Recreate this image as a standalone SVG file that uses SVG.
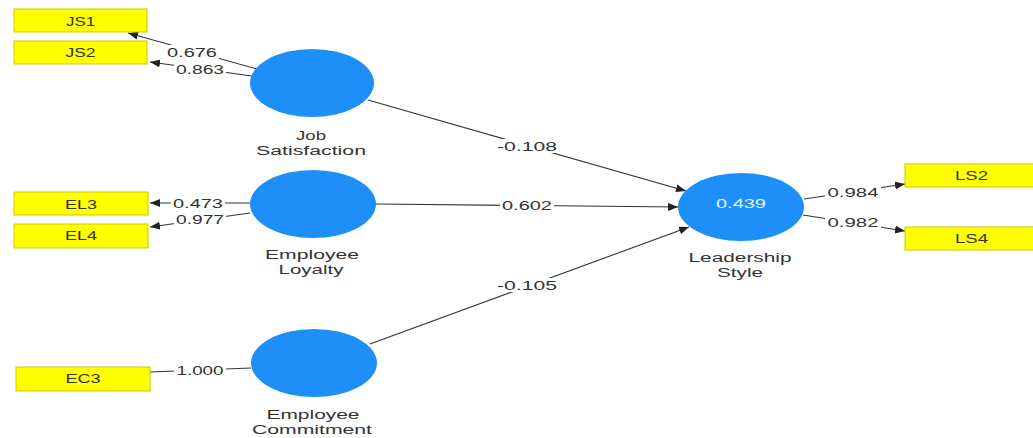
<svg xmlns="http://www.w3.org/2000/svg" width="1033" height="438" viewBox="0 0 1033 438">
<style>
.bg{fill:#ffffff}
.ind rect{fill:#ffff00;stroke:#c9c900;stroke-width:1}
.ind text{font-family:"Liberation Sans",Arial,sans-serif;font-size:13px;fill:#333;text-anchor:middle}
.lat ellipse{fill:#1e8ff8}
.lat text{font-family:"Liberation Sans",Arial,sans-serif;font-size:12.5px;fill:#333;text-anchor:middle}
.lat text.r2{fill:#e8f4ff;font-size:13px}
.edges line{stroke:#333;stroke-width:1.1;fill:none}
.edges rect{fill:#ffffff}
.edges text{font-family:"Liberation Sans",Arial,sans-serif;font-size:13px;fill:#333;text-anchor:middle}
</style>
<defs>
<marker id="arr" markerUnits="userSpaceOnUse" markerWidth="12" markerHeight="10" refX="10" refY="4" orient="auto">
<path d="M0,0 L10,4 L0,8 Z" fill="#222"/>
</marker>
</defs>
<rect class="bg" x="0" y="0" width="1033" height="438"/>

<g id="connectors" class="edges">
<line x1="257" y1="69" x2="128" y2="33" marker-end="url(#arr)"/>
<line x1="252" y1="76" x2="150" y2="62" marker-end="url(#arr)"/>
<line x1="250" y1="203" x2="150" y2="203" marker-end="url(#arr)"/>
<line x1="250" y1="213" x2="150" y2="227" marker-end="url(#arr)"/>
<line x1="251" y1="368" x2="150" y2="372"/>
<line x1="368" y1="100" x2="686" y2="191" marker-end="url(#arr)"/>
<line x1="376" y1="204" x2="678" y2="207" marker-end="url(#arr)"/>
<line x1="370" y1="344" x2="689" y2="227" marker-end="url(#arr)"/>
<line x1="804" y1="199" x2="905" y2="184" marker-end="url(#arr)"/>
<line x1="803" y1="215" x2="905" y2="231" marker-end="url(#arr)"/>
<rect x="165" y="45" width="54" height="14"/>
<rect x="174" y="62" width="52" height="14"/>
<rect x="171" y="196" width="54" height="14"/>
<rect x="174" y="212" width="52" height="14"/>
<rect x="174" y="363" width="52" height="14"/>
<rect x="495" y="139" width="64" height="14"/>
<rect x="500" y="198" width="54" height="14"/>
<rect x="495" y="278" width="64" height="14"/>
<rect x="825" y="185" width="56" height="14"/>
<rect x="825" y="215" width="56" height="14"/>
<text x="192" y="57" textLength="50" lengthAdjust="spacingAndGlyphs">0.676</text>
<text x="200" y="74" textLength="48" lengthAdjust="spacingAndGlyphs">0.863</text>
<text x="198" y="208" textLength="50" lengthAdjust="spacingAndGlyphs">0.473</text>
<text x="200" y="224" textLength="48" lengthAdjust="spacingAndGlyphs">0.977</text>
<text x="200" y="375" textLength="47" lengthAdjust="spacingAndGlyphs">1.000</text>
<text x="527" y="151" textLength="60" lengthAdjust="spacingAndGlyphs">-0.108</text>
<text x="527" y="210" textLength="50" lengthAdjust="spacingAndGlyphs">0.602</text>
<text x="527" y="290" textLength="60" lengthAdjust="spacingAndGlyphs">-0.105</text>
<text x="853" y="197" textLength="51" lengthAdjust="spacingAndGlyphs">0.984</text>
<text x="853" y="227" textLength="51" lengthAdjust="spacingAndGlyphs">0.982</text>
</g>

<g id="JS1" class="ind"><rect x="14" y="9" width="133" height="23"/><text x="80.5" y="26" textLength="29" lengthAdjust="spacingAndGlyphs">JS1</text></g>
<g id="JS2" class="ind"><rect x="14" y="41" width="133" height="23"/><text x="80.5" y="57" textLength="30" lengthAdjust="spacingAndGlyphs">JS2</text></g>
<g id="EL3" class="ind"><rect x="14" y="192" width="134" height="23"/><text x="81" y="209" textLength="32" lengthAdjust="spacingAndGlyphs">EL3</text></g>
<g id="EL4" class="ind"><rect x="14" y="224" width="134" height="24"/><text x="81" y="240" textLength="32" lengthAdjust="spacingAndGlyphs">EL4</text></g>
<g id="EC3" class="ind"><rect x="16" y="367" width="134" height="24"/><text x="83" y="383" textLength="35" lengthAdjust="spacingAndGlyphs">EC3</text></g>
<g id="LS2" class="ind"><rect x="905" y="164" width="134" height="23"/><text x="971.5" y="180" textLength="33" lengthAdjust="spacingAndGlyphs">LS2</text></g>
<g id="LS4" class="ind"><rect x="905" y="227" width="134" height="23"/><text x="971.5" y="243" textLength="33" lengthAdjust="spacingAndGlyphs">LS4</text></g>

<g id="job-satisfaction" class="lat">
<ellipse cx="312" cy="83" rx="62" ry="34"/>
<text x="311" y="140" textLength="30" lengthAdjust="spacingAndGlyphs">Job</text>
<text x="311" y="154.5" textLength="110" lengthAdjust="spacingAndGlyphs">Satisfaction</text>
</g>
<g id="employee-loyalty" class="lat">
<ellipse cx="313" cy="204" rx="63" ry="34"/>
<text x="312" y="259" textLength="94" lengthAdjust="spacingAndGlyphs">Employee</text>
<text x="311" y="273.5" textLength="65" lengthAdjust="spacingAndGlyphs">Loyalty</text>
</g>
<g id="employee-commitment" class="lat">
<ellipse cx="314" cy="363" rx="63" ry="34"/>
<text x="313" y="419" textLength="93" lengthAdjust="spacingAndGlyphs">Employee</text>
<text x="312" y="433.5" textLength="120" lengthAdjust="spacingAndGlyphs">Commitment</text>
</g>
<g id="leadership-style" class="lat">
<ellipse cx="741" cy="207" rx="63" ry="34"/>
<text class="r2" x="741" y="208" textLength="50" lengthAdjust="spacingAndGlyphs">0.439</text>
<text x="740" y="262" textLength="103" lengthAdjust="spacingAndGlyphs">Leadership</text>
<text x="740" y="276.5" textLength="46" lengthAdjust="spacingAndGlyphs">Style</text>
</g>
</svg>
